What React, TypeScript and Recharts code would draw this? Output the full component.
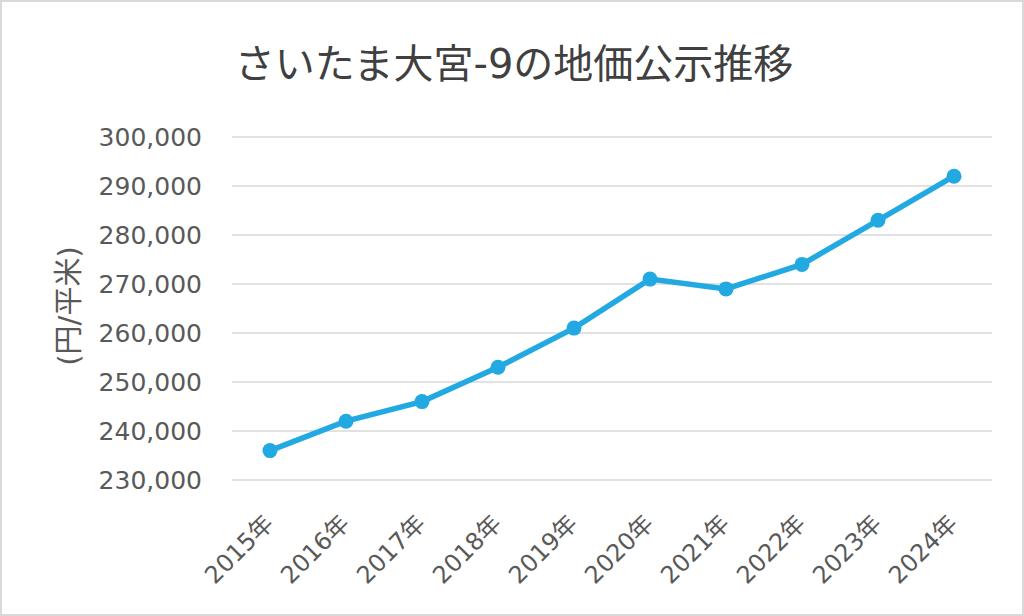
import React from 'react';
import { LineChart, Line, XAxis, YAxis, CartesianGrid } from 'recharts';

const years = ['2015年', '2016年', '2017年', '2018年', '2019年', '2020年', '2021年', '2022年', '2023年', '2024年'];
const prices = [236000, 242000, 246000, 253000, 261000, 271000, 269000, 274000, 283000, 292000];
const yTicks = [230000, 240000, 250000, 260000, 270000, 280000, 290000, 300000];
const title = 'さいたま大宮-9の地価公示推移';
const yLabel = '(円/平米)';

const data = years.map((y, i) => ({ year: y, price: prices[i] }));

const FONT = '"DejaVu Sans", "Noto Sans CJK JP", sans-serif';
const TEXT = '#595959';
const LINE = '#22a9e1';

const XTick = (props: any) => {
  const { x, y, payload } = props;
  return (
    <g transform={`translate(${x + 5},${y + 37})`}>
      <text textAnchor="end" transform="rotate(-45)" fill={TEXT} fontSize={24} fontFamily={FONT}>
        {payload.value}
      </text>
    </g>
  );
};

export default function App() {
  return (
    <div
      style={{
        position: 'absolute',
        left: 0,
        top: 0,
        width: 1024,
        height: 616,
        background: '#fff',
        boxSizing: 'border-box',
        border: '2px solid #d9d9d9',
        fontFamily: FONT,
      }}
    >
      <div
        style={{
          position: 'absolute',
          left: 0,
          top: 36,
          width: 1024,
          textAlign: 'center',
          fontSize: 40,
          color: '#404040',
          lineHeight: '52px',
        }}
      >
        {title}
      </div>
      <div
        style={{
          position: 'absolute',
          left: 64,
          top: 304,
          transform: 'translate(-50%, -50%) rotate(-90deg)',
          fontSize: 29,
          color: TEXT,
          whiteSpace: 'nowrap',
        }}
      >
        {yLabel}
      </div>
      <div style={{ position: 'absolute', left: -2, top: -2 }}>
        <LineChart width={1024} height={616} data={data} margin={{ top: 137, right: 32, bottom: 36, left: 102 }}>
          <CartesianGrid vertical={false} stroke="#d9d9d9" strokeWidth={1.5} />
          <XAxis
            dataKey="year"
            axisLine={false}
            tickLine={false}
            padding={{ left: 38, right: 38 }}
            height={100}
            interval={0}
            tick={<XTick />}
          />
          <YAxis
            width={130}
            domain={[230000, 300000]}
            ticks={yTicks}
            axisLine={false}
            tickLine={false}
            tickMargin={24}
            tickFormatter={(v: number) => v.toLocaleString('en-US')}
            tick={{ fill: TEXT, fontSize: 25, fontFamily: FONT }}
          />
          <Line
            type="linear"
            dataKey="price"
            stroke={LINE}
            strokeWidth={5.5}
            dot={{ r: 7.5, fill: LINE, stroke: LINE, strokeWidth: 0 }}
            isAnimationActive={false}
          />
        </LineChart>
      </div>
    </div>
  );
}
